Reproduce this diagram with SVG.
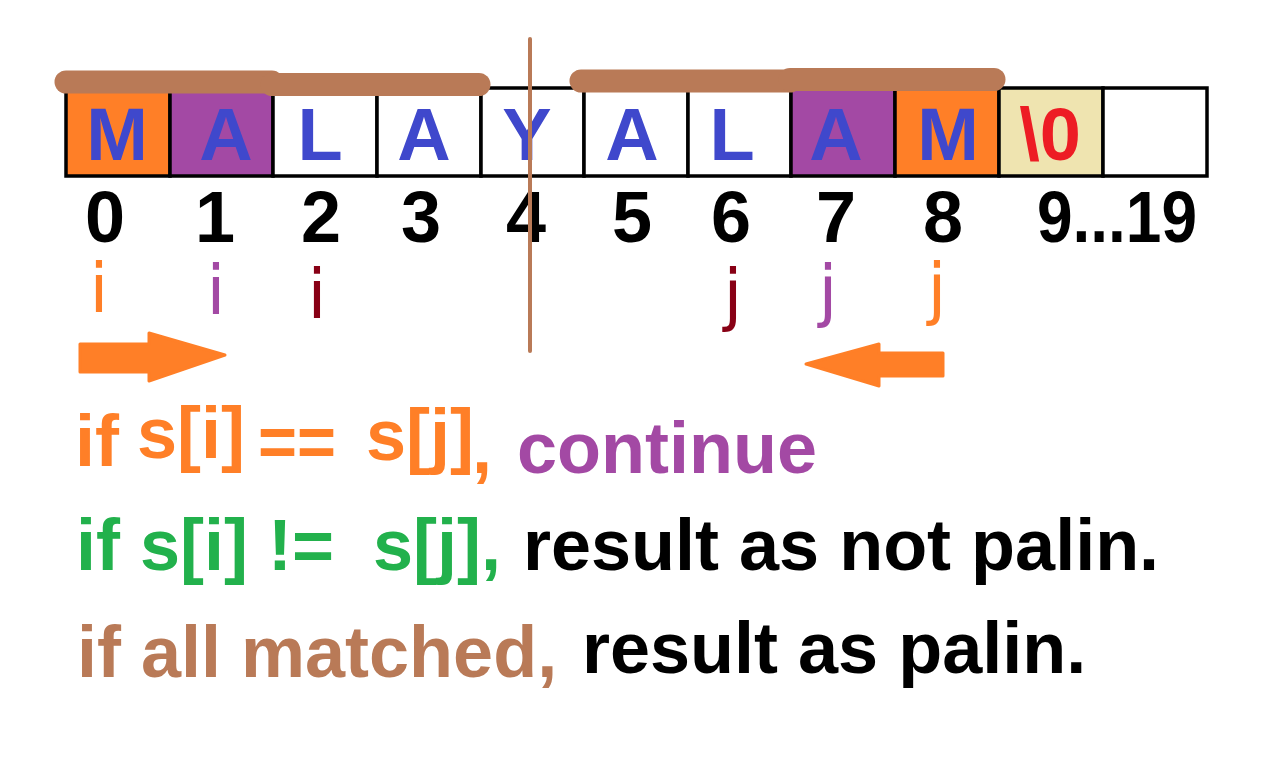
<svg xmlns="http://www.w3.org/2000/svg" width="1276" height="760" viewBox="0 0 1276 760">
<style>
.cell{stroke:#000;stroke-width:3.5}
.let{font-family:"Liberation Sans",Arial,sans-serif;font-weight:bold;font-size:74px;fill:#3F48CC;text-anchor:middle}
.num{font-family:"Liberation Sans",Arial,sans-serif;font-weight:bold;font-size:72px;fill:#000;text-anchor:middle}
.ij{font-family:"DejaVu Sans",sans-serif;font-size:68px;text-anchor:middle}
.txt{font-family:"Liberation Sans",Arial,sans-serif;font-weight:bold;font-size:72px}
.bar{stroke:#B97A57;stroke-width:23;stroke-linecap:round;fill:none}
.arrow{fill:#FF7F27;stroke:#FF7F27;stroke-width:3;stroke-linejoin:round}
</style>
<rect width="1276" height="760" fill="#fff"/>
<g id="array">
<g id="cell0"><rect class="cell" x="66" y="88" width="104" height="88" fill="#FF7F27"/><text class="let" x="117" y="160">M</text></g>
<g id="cell1"><rect class="cell" x="170" y="88" width="103" height="88" fill="#A349A4"/><text class="let" x="226" y="160">A</text></g>
<g id="cell2"><rect class="cell" x="273" y="88" width="104" height="88" fill="#fff"/><text class="let" x="320" y="160">L</text></g>
<g id="cell3"><rect class="cell" x="377" y="88" width="104" height="88" fill="#fff"/><text class="let" x="424" y="160">A</text></g>
<g id="cell4"><rect class="cell" x="481" y="88" width="103" height="88" fill="#fff"/><text class="let" x="527" y="160">Y</text></g>
<g id="cell5"><rect class="cell" x="584" y="88" width="104" height="88" fill="#fff"/><text class="let" x="632" y="160">A</text></g>
<g id="cell6"><rect class="cell" x="688" y="88" width="103" height="88" fill="#fff"/><text class="let" x="732" y="160">L</text></g>
<g id="cell7"><rect class="cell" x="791" y="88" width="104" height="88" fill="#A349A4"/><text class="let" x="836" y="160">A</text></g>
<g id="cell8"><rect class="cell" x="895" y="88" width="104" height="88" fill="#FF7F27"/><text class="let" x="948" y="160">M</text></g>
<g id="cell9"><rect class="cell" x="999" y="88" width="104" height="88" fill="#EFE4B0"/><text class="let" x="1050" y="160" fill="#ED1C24" style="fill:#ED1C24">\0</text></g>
<g id="cell10"><rect class="cell" x="1103" y="88" width="104" height="88" fill="#fff"/></g>
</g>
<g id="indices">
<text class="num" x="105" y="242">0</text>
<text class="num" x="215" y="242">1</text>
<text class="num" x="321" y="242">2</text>
<text class="num" x="421" y="242">3</text>
<text class="num" x="526" y="242">4</text>
<text class="num" x="632" y="242">5</text>
<text class="num" x="731" y="242">6</text>
<text class="num" x="836" y="242">7</text>
<text class="num" x="943" y="242">8</text>
<text class="num" x="1117" y="242" textLength="160" lengthAdjust="spacingAndGlyphs">9...19</text>
</g>
<g id="pointers">
<text class="ij" x="99" y="312" fill="#FF7F27">i</text>
<text class="ij" x="216" y="314" fill="#A349A4">i</text>
<text class="ij" x="317" y="318" fill="#880015">i</text>
<text class="ij" x="733" y="318" fill="#880015">j</text>
<text class="ij" x="828" y="314" fill="#A349A4">j</text>
<text class="ij" x="937" y="312" fill="#FF7F27">j</text>
</g>
<g id="halves">
<line class="bar" x1="66" y1="82" x2="272" y2="82"/>
<line class="bar" x1="272" y1="84.5" x2="479" y2="84.5"/>
<line class="bar" x1="581" y1="81" x2="790" y2="81"/>
<line class="bar" x1="790" y1="79.5" x2="994" y2="79.5"/>
</g>
<g id="middle">
<line x1="530" y1="39" x2="530" y2="351" stroke="#B97A57" stroke-width="4" stroke-linecap="round"/>
</g>
<g id="connectors">
<polygon class="arrow" points="80,344 149,344 149,333 225,355 149,381 149,372 80,372"/>
<polygon class="arrow" points="943,353 879,353 879,344 806,364 879,386 879,376 943,376"/>
</g>
<g id="rules">
<g id="rule1">
<text class="txt" x="75" y="466" fill="#FF7F27">if</text>
<text class="txt" x="137" y="458" fill="#FF7F27">s[i]</text>
<text class="txt" x="258" y="466" fill="#FF7F27" textLength="78" lengthAdjust="spacingAndGlyphs">==</text>
<text class="txt" x="366" y="460" fill="#FF7F27">s[j]</text>
<text class="txt" x="472" y="473" fill="#FF7F27">,</text>
<text class="txt" x="517" y="473" fill="#A349A4">continue</text>
</g>
<g id="rule2">
<text class="txt" x="76" y="570" fill="#22B14C">if s[i] !=<tspan x="373">s[j],</tspan></text>
<text class="txt" x="523" y="570" fill="#000">result as not palin.</text>
</g>
<g id="rule3">
<text class="txt" x="77" y="677" fill="#B97A57">if all matched,</text>
<text class="txt" x="582" y="673" fill="#000">result as palin.</text>
</g>
</g>
</svg>
